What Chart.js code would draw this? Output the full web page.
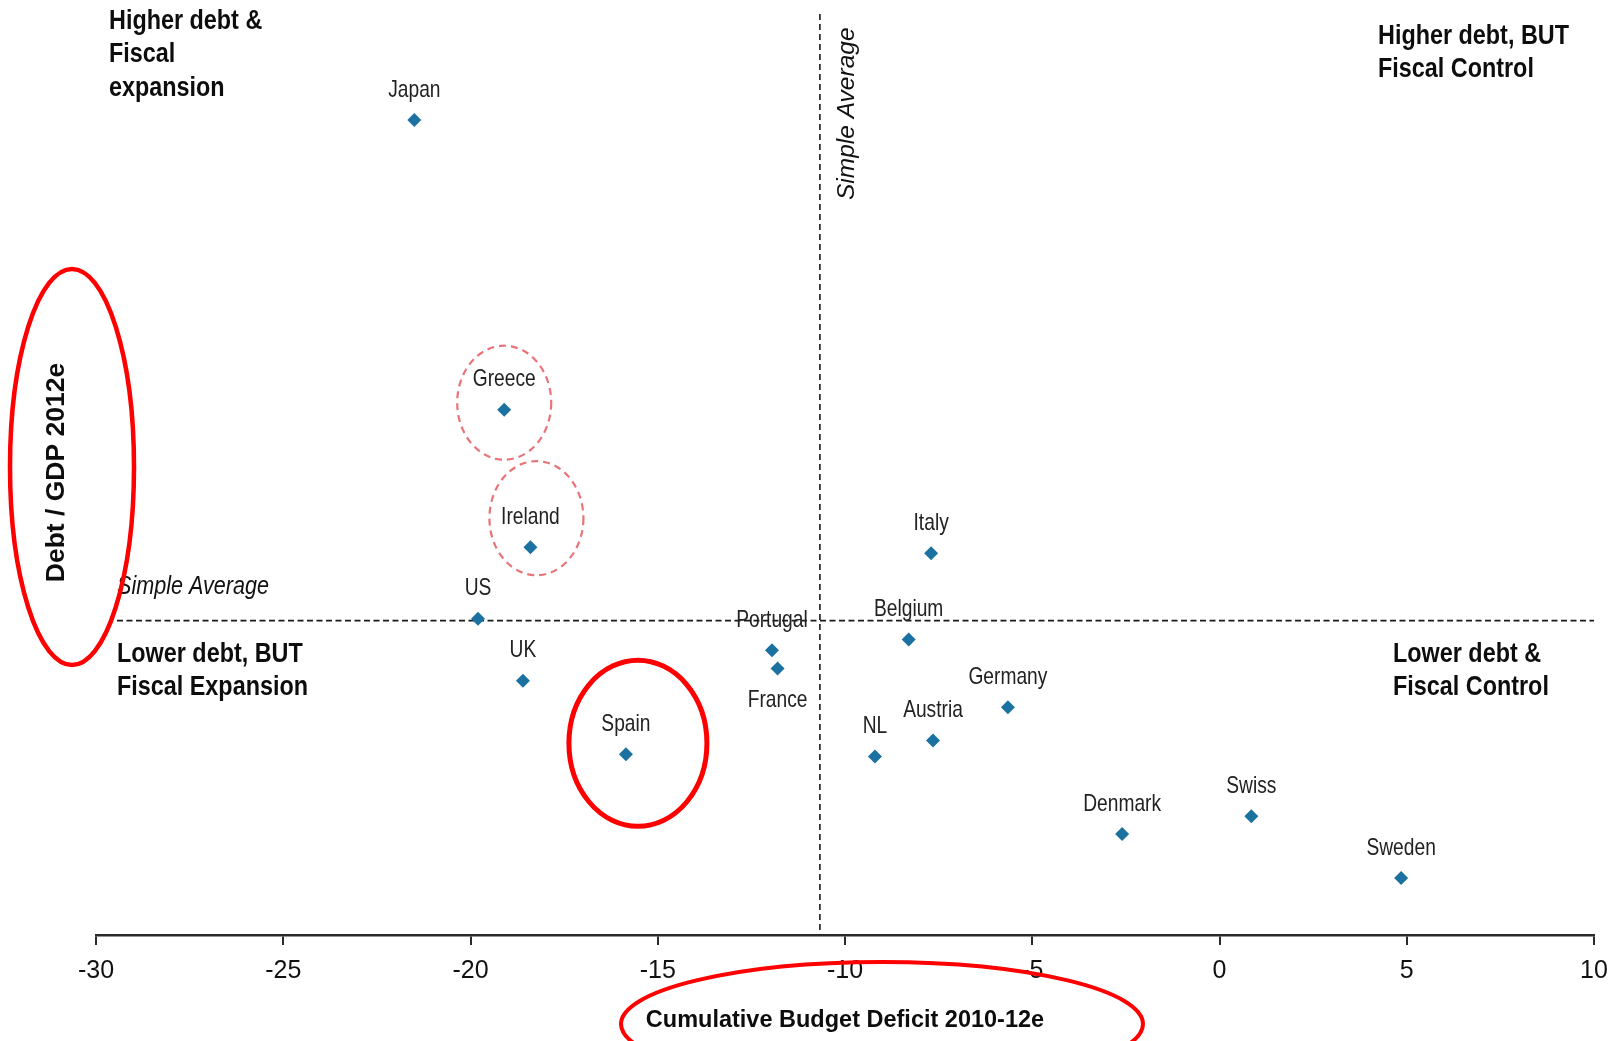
<!DOCTYPE html>
<html>
<head>
<meta charset="utf-8">
<script src="https://cdn.jsdelivr.net/npm/chart.js@4.4.1/dist/chart.umd.min.js"></script>
<style>
html,body{margin:0;padding:0;background:#ffffff;}
#wrap{width:1619px;height:1041px;position:relative;}
</style>
</head>
<body>
<div id="wrap"><canvas id="c"></canvas></div>
<script>
// ---- data ----
const countries = ['Japan','Greece','Ireland','US','UK','Spain','Portugal','France','Italy','Belgium','Germany','Austria','NL','Denmark','Swiss','Sweden'];
const cumulativeDeficit = [-21.5,-19.1,-18.4,-19.8,-18.6,-15.85,-11.95,-11.8,-7.7,-8.3,-5.65,-7.65,-9.2,-2.6,0.85,4.85];
const debtToGdp = [236,160.3,124.4,105.7,89.5,70.3,97.5,92.7,122.8,100.3,82.6,73.9,69.7,49.5,54.1,38.0];
const xTickValues = [-30,-25,-20,-15,-10,-5,0,5,10];
const avgDeficit = -10.67;
const avgDebt = 105.2;
const labelsBelow = ['France'];

const REG = '"Liberation Sans", Arial, sans-serif';

const points = countries.map((c, i) => ({x: cumulativeDeficit[i], y: debtToGdp[i], label: c}));

// condensed text helper (the original uses a narrow face)
function ctext(ctx, text, x, y, sx, align) {
  ctx.save();
  ctx.translate(x, y);
  ctx.scale(sx, 1);
  ctx.textAlign = align;
  ctx.fillText(text, 0, 0);
  ctx.restore();
}

const guides = {
  id: 'guides',
  beforeDatasetsDraw(chart) {
    const {ctx, chartArea: ca, scales: {x, y}} = chart;
    ctx.save();
    ctx.strokeStyle = '#1a1a1a';
    const ax = x.getPixelForValue(avgDeficit);
    ctx.lineWidth = 1.6;
    ctx.setLineDash([6, 4]);
    ctx.beginPath(); ctx.moveTo(ax, ca.top + 4); ctx.lineTo(ax, ca.bottom); ctx.stroke();
    const ay = y.getPixelForValue(avgDebt);
    ctx.lineWidth = 1.8;
    ctx.setLineDash([6, 3.5]);
    ctx.beginPath(); ctx.moveTo(ca.left + 21, ay); ctx.lineTo(ca.right, ay); ctx.stroke();
    ctx.setLineDash([]);
    ctx.fillStyle = '#111';
    ctx.textBaseline = 'middle';
    ctx.font = 'italic 26px ' + REG;
    ctext(ctx, 'Simple Average', ca.left + 21, ay - 34, 0.83, 'left');
    ctx.save();
    ctx.translate(ax + 27, 200);
    ctx.rotate(-Math.PI / 2);
    ctx.font = 'italic 24.5px ' + REG;
    ctx.textAlign = 'left';
    ctx.fillText('Simple Average', 0, 0);
    ctx.restore();
    ctx.restore();
  },
  afterDatasetsDraw(chart) {
    const {ctx} = chart;
    const meta = chart.getDatasetMeta(0);
    ctx.save();
    ctx.fillStyle = '#222';
    ctx.font = '24px ' + REG;
    ctx.textBaseline = 'middle';
    meta.data.forEach((el, i) => {
      const below = labelsBelow.includes(countries[i]);
      ctext(ctx, countries[i], el.x, el.y + (below ? 32 : -30), 0.8, 'center');
    });
    ctx.fillStyle = '#0d0d0d';
    ctx.font = 'bold 28px ' + REG;
    const quad = (lines, x0, y0) => lines.forEach((t, k) => ctext(ctx, t, x0, y0 + k * 33.5, 0.835, 'left'));
    quad(['Higher debt &', 'Fiscal', 'expansion'], 109, 21);
    quad(['Higher debt, BUT', 'Fiscal Control'], 1378, 36);
    quad(['Lower debt, BUT', 'Fiscal Expansion'], 117, 654);
    quad(['Lower debt &', 'Fiscal Control'], 1393, 654);

    const pt = name => meta.data[countries.indexOf(name)];
    ctx.strokeStyle = '#ea7378';
    ctx.lineWidth = 2.2;
    ctx.setLineDash([7, 5]);
    const g = pt('Greece');
    ctx.beginPath(); ctx.ellipse(g.x, g.y - 7, 47, 57, 0, 0, Math.PI * 2); ctx.stroke();
    const ir = pt('Ireland');
    ctx.beginPath(); ctx.ellipse(ir.x + 6, ir.y - 29, 47, 57, 0, 0, Math.PI * 2); ctx.stroke();
    ctx.setLineDash([]);

    ctx.strokeStyle = '#ff0000';
    ctx.lineWidth = 5;
    const sp = pt('Spain');
    ctx.beginPath(); ctx.ellipse(sp.x + 12, sp.y - 11, 69, 83, 0, 0, Math.PI * 2); ctx.stroke();
    ctx.lineWidth = 4.5;
    ctx.beginPath(); ctx.ellipse(72, 467, 62, 198, 0, 0, Math.PI * 2); ctx.stroke();
    ctx.lineWidth = 4;
    ctx.beginPath(); ctx.ellipse(882, 1024, 261, 62, 0, 0, Math.PI * 2); ctx.stroke();
    ctx.restore();
  }
};

new Chart(document.getElementById('c'), {
  type: 'scatter',
  data: {
    datasets: [{
      data: points,
      pointStyle: 'rectRot',
      pointRadius: 7,
      pointHoverRadius: 7,
      pointBorderWidth: 0,
      backgroundColor: '#1b72a0',
      borderColor: '#1b72a0'
    }]
  },
  options: {
    responsive: true,
    maintainAspectRatio: false,
    animation: false,
    layout: {padding: {top: 10, right: 25, bottom: 0, left: 0}},
    plugins: {legend: {display: false}, tooltip: {enabled: false}},
    scales: {
      x: {
        type: 'linear',
        min: -30, max: 10,
        afterBuildTicks: axis => { axis.ticks = xTickValues.map(v => ({value: v})); },
        afterFit: axis => { axis.height = 106; },
        border: {display: true, color: '#2a2a2a', width: 2.5},
        grid: {display: true, drawOnChartArea: false, drawTicks: true, tickLength: 10, color: '#2a2a2a', lineWidth: 2},
        ticks: {
          color: '#111', padding: 11,
          font: {family: REG, size: 25},
          callback: v => String(v),
          maxRotation: 0, autoSkip: false
        },
        title: {
          display: true,
          text: 'Cumulative Budget Deficit 2010-12e',
          color: '#0d0d0d',
          font: {family: REG, size: 23.5, weight: 'bold'},
          padding: {top: 0, bottom: 6}
        }
      },
      y: {
        type: 'linear',
        min: 23.1, max: 264.7,
        afterFit: axis => { axis.width = 96; },
        border: {display: false},
        grid: {display: false},
        ticks: {display: false},
        title: {
          display: true,
          text: 'Debt / GDP 2012e',
          color: '#0d0d0d',
          font: {family: REG, size: 26.5, weight: 'bold'},
          padding: {top: 41, bottom: 0}
        }
      }
    }
  },
  plugins: [guides]
});
</script>
</body>
</html>
